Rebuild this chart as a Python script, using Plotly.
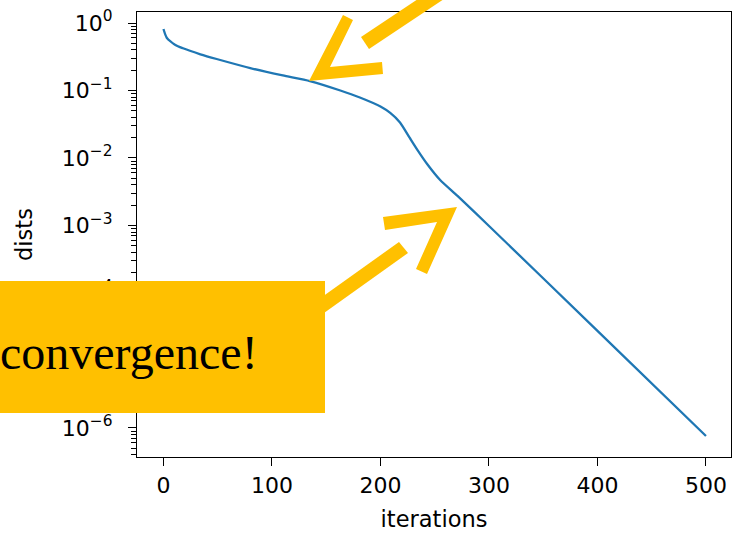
import plotly.graph_objects as go

# ---- data ----
iterations = [0, 3, 11, 18, 34, 49, 80, 110, 135, 163, 181, 200, 209, 218,
              227, 234, 243, 255, 271, 301, 400, 500]
dists = [0.815, 0.605, 0.472, 0.422, 0.344, 0.293, 0.215, 0.167, 0.138, 0.100,
         0.0787, 0.0579, 0.0465, 0.0336, 0.0198, 0.0132, 0.00815, 0.00472,
         0.00274, 0.000951, 2.74e-5, 7.60e-7]

x_tick_vals = [0, 100, 200, 300, 400, 500]
y_tick_vals = [1, 1e-1, 1e-2, 1e-3, 1e-4, 1e-5, 1e-6]
y_tick_text = ["10<sup>0</sup>", "10<sup>−1</sup>", "10<sup>−2</sup>", "10<sup>−3</sup>",
               "10<sup>−4</sup>", "10<sup>−5</sup>", "10<sup>−6</sup>"]
annotation_text = "convergence!"

# ---- layout geometry (pixels) ----
W, H = 732, 534
L, R, T, B = 137, 1, 12, 77
PW, PH = W - L - R, H - T - B
YELLOW = "#FFC000"


def px(x):
    return (x - L) / PW


def py(y):
    return (H - B - y) / PH


def poly(points):
    s = "M " + " L ".join(f"{px(x):.5f},{py(y):.5f}" for x, y in points) + " Z"
    return dict(type="path", xref="paper", yref="paper", path=s,
                fillcolor=YELLOW, line=dict(width=0), layer="above")


minor_vals = []
for k in range(-7, 1):
    for m in range(2, 10):
        minor_vals.append(m * 10.0 ** k)

fig = go.Figure()
fig.add_trace(go.Scatter(x=iterations, y=dists, mode="lines",
                         line=dict(color="#1f77b4", width=2.3, shape="spline", smoothing=0.6),
                         showlegend=False, hoverinfo="skip"))

shapes = [
    # upper arrow
    poly([(361, 37), (369, 49), (462, -13), (454, -25)]),
    poly([(309, 81), (343, 15), (353, 20), (330, 67), (382, 62), (383, 74)]),
    # lower arrow
    poly([(399, 242), (408, 253), (310, 323), (301, 312)]),
    poly([(457, 207), (383, 217), (385, 230), (437, 222), (416, 269), (427, 274)]),
    # box
    dict(type="rect", xref="paper", yref="paper", x0=px(-6), x1=px(325),
         y0=py(413), y1=py(281), fillcolor=YELLOW, line=dict(width=0), layer="above"),
]

fig.update_layout(
    width=W, height=H, autosize=False,
    margin=dict(l=L, r=R, t=T, b=B, pad=0),
    paper_bgcolor="white", plot_bgcolor="white",
    font=dict(family="DejaVu Sans", size=22, color="black"),
    shapes=shapes,
    annotations=[dict(text=annotation_text, xref="paper", yref="paper",
                      x=px(-2), y=py(352), xanchor="left", yanchor="middle",
                      showarrow=False,
                      font=dict(family="Liberation Serif", size=48, color="black"))],
    xaxis=dict(range=[-24.4, -24.4 + PW / 1.085], tickvals=x_tick_vals,
               showgrid=False, zeroline=False, showline=True, mirror=True,
               linecolor="black", linewidth=1.3, ticks="outside", ticklen=8,
               tickwidth=1.3, tickcolor="black",
               title=dict(text="iterations", standoff=14, font=dict(size=22.5))),
    yaxis=dict(type="log", range=[-6.43, 0.163], tickvals=y_tick_vals, ticktext=y_tick_text,
               showgrid=False, zeroline=False, showline=True, mirror=True,
               linecolor="black", linewidth=1.3, ticks="outside", ticklen=8,
               tickwidth=1.3, tickcolor="black", ticklabelstandoff=11,
               minor=dict(tickvals=minor_vals, ticks="outside", ticklen=5,
                          tickwidth=1, tickcolor="black", showgrid=False),
               title=dict(text="dists", standoff=22, font=dict(size=22.5))),
)

fig.write_html("out.html", config={"displayModeBar": False},
               post_script="document.body.style.margin='0';document.body.style.padding='0';")
